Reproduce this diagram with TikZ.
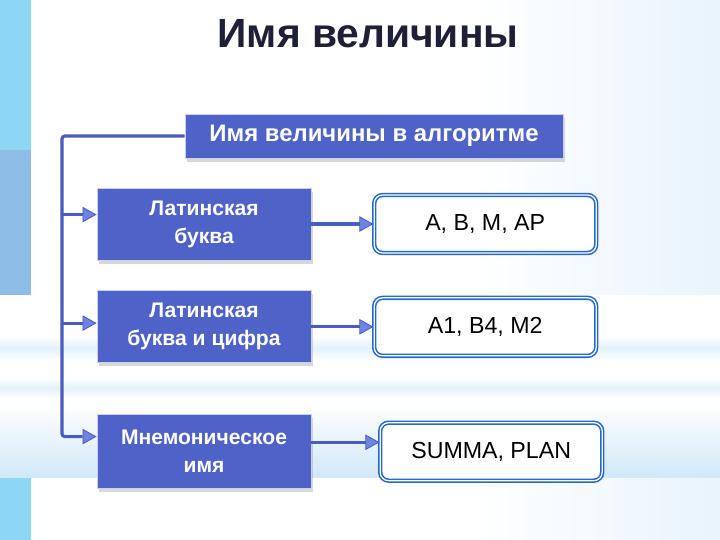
\documentclass[tikz,border=0pt]{standalone}
\usepackage{fontspec}
\setmainfont{Liberation Sans}
\usetikzlibrary{positioning,arrows.meta,shadows}
\definecolor{boxblue}{HTML}{4F62C7}
\definecolor{lineblue}{HTML}{4A5CC2}
\definecolor{tipblue}{HTML}{6E84E2}
\definecolor{frameblue}{HTML}{2468CC}
\definecolor{titlecol}{HTML}{1F1F38}
\definecolor{sky}{HTML}{C8E3F8}
\definecolor{stripcyan}{HTML}{8DD6F4}
\definecolor{stripblue}{HTML}{8EBDE7}
\pgfdeclarehorizontalshading{bgshade}{100bp}{color(0bp)=(sky); color(28bp)=(white); color(58bp)=(white); color(100bp)=(sky)}

\begin{document}
\begin{tikzpicture}[align=center,
	conn/.style={line width=2.2pt,draw=lineblue,rounded corners=2pt},
	arr/.style={conn,-{Triangle[length=10pt,width=11pt,fill=tipblue,line width=0.6pt]}},
	bluebox/.style={rectangle,fill=boxblue,draw=white!70!boxblue,line width=0.6pt,text=white,
		font=\bfseries\fontsize{15}{20}\selectfont,minimum width=5.35cm,minimum height=1.8cm,
		drop shadow={shadow xshift=1.5pt,shadow yshift=-2.5pt,opacity=0.3}},
	valbox/.style={rectangle,rounded corners=6pt,fill=white,draw=frameblue,double=white,
		double distance=0.9pt,line width=1.1pt,font=\fontsize{16.5}{19}\selectfont,
		minimum width=5.55cm,minimum height=1.45cm}]
% background
\useasboundingbox (0,0) rectangle (18,13.5);
\shade[shading=bgshade] (0,0) rectangle (18,13.5);
\fill[white] (0,1.55) rectangle (18,6.125);
\shade[top color=white,bottom color=white,middle color=sky!50] (0,4.5) rectangle (18,5.1);
\shade[top color=white,bottom color=white,middle color=sky!50] (0,3.55) rectangle (18,4.05);
\shade[top color=white,bottom color=sky!85] (0,1.55) rectangle (18,3.4);
\fill[stripcyan] (0,9.75) rectangle (0.775,13.5);
\fill[stripblue] (0,6.125) rectangle (0.775,9.75);
\fill[stripcyan] (0,0) rectangle (0.775,1.55);
% nodes
\node[font=\bfseries\fontsize{29}{34}\selectfont,text=titlecol,anchor=base](title) at (9.2,12.3){Имя величины};
\node[bluebox,font=\bfseries\fontsize{17}{20}\selectfont,minimum width=9.45cm,minimum height=1.1cm](top) at (9.35,10.1){Имя величины в алгоритме};
\node[bluebox](lat) at (5.1,7.9){Латинская\\буква};
\node[bluebox](latnum)[below=0.75cm of lat]{Латинская\\буква и цифра};
\node[bluebox,minimum height=1.85cm](mnem)[below=1.275cm of latnum]{Мнемоническое\\имя};
\node[valbox](abm)[right=1.55cm of lat]{A, B, M, AP};
\node[valbox](abnum)[right=1.55cm of latnum]{A1, B4, M2};
\node[valbox](summa)[right=1.7cm of mnem]{SUMMA, PLAN};
\coordinate (trunk) at (1.55,10);
% connectors
\draw[arr](top.west) -- (top.west -| trunk) -- (trunk |- mnem.172) -- (mnem.172);
\draw[arr](trunk |- lat.175) -- (lat.175);
\draw[arr](trunk |- latnum.178) -- (latnum.178);
\draw[arr](lat.east) -- (lat.east -| abm.west);
\draw[arr](latnum.east) -- (latnum.east -| abnum.west);
\draw[arr](mnem.5) -- (mnem.5 -| summa.west);
\end{tikzpicture}
\end{document}
